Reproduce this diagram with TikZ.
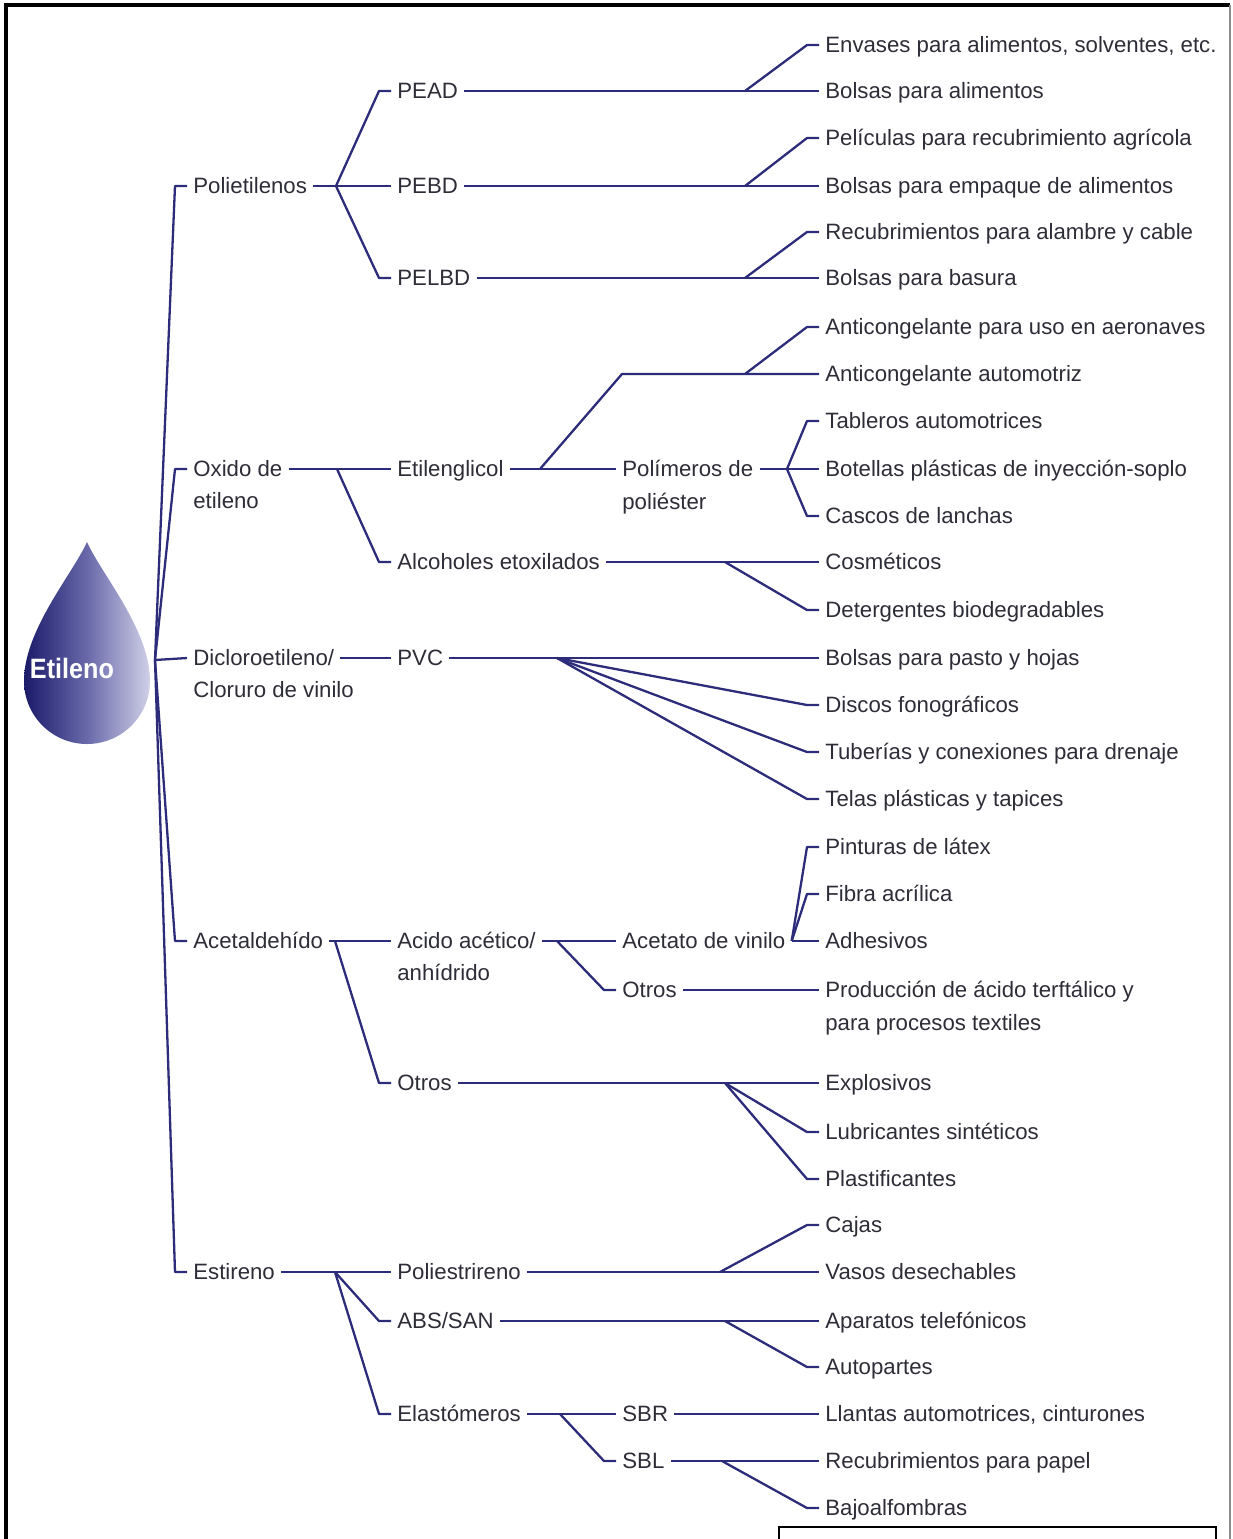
\documentclass[tikz,border=0pt]{standalone}
\usepackage{fontspec}
\setmainfont{Liberation Sans}
\usetikzlibrary{calc}

\definecolor{linea}{RGB}{44,44,122}
\definecolor{texto}{RGB}{45,45,55}
\definecolor{gotaosc}{RGB}{26,26,106}
\definecolor{gotamed}{RGB}{105,105,170}
\definecolor{gotacla}{RGB}{208,208,232}

\tikzset{
  rama/.style={draw=linea, line width=1.15pt, line join=round},
  txt/.style={anchor=west, inner xsep=3pt, inner ysep=0pt, text height=8pt,
    text depth=0.3pt, text=texto, font=\fontsize{11.1}{14}\selectfont},
}

\begin{document}
\begin{tikzpicture}[x=0.5pt, y=-0.5pt]
    \useasboundingbox (0,0) rectangle (1233,1539);

    % Marco
    \draw[line width=1.6pt] (6,1539) -- (6,5) -- (1230,5);
    \draw[black!45, line width=0.8pt] (1230,5) -- (1230,1539);
    \draw[line width=1.2pt] (779,1539) -- (779,1527) -- (1216,1527) -- (1216,1539);

    % Gota
    \shade[left color=gotaosc, right color=gotacla, middle color=gotamed]
        (87,542) .. controls (72,575) and (24,630) .. (24,681)
        arc[start angle=180, end angle=0, radius=63]
        .. controls (150,630) and (102,575) .. (87,542) -- cycle;
    \node[text=white, font={\fontsize{14}{14}\selectfont\bfseries}] (etileno) at (72,668)
        {\scalebox{0.9}[1]{Etileno}};
    \coordinate (raiz) at (155,660);

    % Primer nivel
    \node[txt] (poli) at (187,186) {Polietilenos};
    \node[txt] (oxi) at (187,469) {Oxido de};
    \node[txt] (oxib) at (187,501) {etileno};
    \node[txt] (dic) at (187,658) {Dicloroetileno/};
    \node[txt] (dicb) at (187,690) {Cloruro de vinilo};
    \node[txt] (ace) at (187,941) {Acetaldehído};
    \node[txt] (est) at (187,1272) {Estireno};

    % Segundo nivel
    \node[txt] (pead) at (391,91) {PEAD};
    \node[txt] (pebd) at (391,186) {PEBD};
    \node[txt] (pelbd) at (391,278) {PELBD};
    \node[txt] (etg) at (391,469) {Etilenglicol};
    \node[txt] (alc) at (391,562) {Alcoholes etoxilados};
    \node[txt] (pvc) at (391,658) {PVC};
    \node[txt] (aca) at (391,941) {Acido acético/};
    \node[txt] (acab) at (391,973) {anhídrido};
    \node[txt] (otra) at (391,1083) {Otros};
    \node[txt] (pest) at (391,1272) {Poliestrireno};
    \node[txt] (abs) at (391,1321) {ABS/SAN};
    \node[txt] (ela) at (391,1414) {Elastómeros};

    % Tercer nivel
    \node[txt] (polm) at (616,469) {Polímeros de};
    \node[txt] (polmb) at (616,502) {poliéster};
    \node[txt] (acv) at (616,941) {Acetato de vinilo};
    \node[txt] (otrb) at (616,990) {Otros};
    \node[txt] (sbr) at (616,1414) {SBR};
    \node[txt] (sbl) at (616,1461) {SBL};

    % Productos
    \node[txt] (env) at (819,45) {Envases para alimentos, solventes, etc.};
    \node[txt] (bal) at (819,91) {Bolsas para alimentos};
    \node[txt] (pel) at (819,138) {Películas para recubrimiento agrícola};
    \node[txt] (bea) at (819,186) {Bolsas para empaque de alimentos};
    \node[txt] (reca) at (819,232) {Recubrimientos para alambre y cable};
    \node[txt] (bba) at (819,278) {Bolsas para basura};
    \node[txt] (anta) at (819,327) {Anticongelante para uso en aeronaves};
    \node[txt] (antm) at (819,374) {Anticongelante automotriz};
    \node[txt] (tab) at (819,421) {Tableros automotrices};
    \node[txt] (bot) at (819,469) {Botellas plásticas de inyección-soplo};
    \node[txt] (cas) at (819,516) {Cascos de lanchas};
    \node[txt] (cos) at (819,562) {Cosméticos};
    \node[txt] (det) at (819,610) {Detergentes biodegradables};
    \node[txt] (bph) at (819,658) {Bolsas para pasto y hojas};
    \node[txt] (dis) at (819,705) {Discos fonográficos};
    \node[txt] (tub) at (819,752) {Tuberías y conexiones para drenaje};
    \node[txt] (tel) at (819,799) {Telas plásticas y tapices};
    \node[txt] (pin) at (819,847) {Pinturas de látex};
    \node[txt] (fib) at (819,894) {Fibra acrílica};
    \node[txt] (adh) at (819,941) {Adhesivos};
    \node[txt] (pro) at (819,990) {Producción de ácido terftálico y};
    \node[txt] (prob) at (819,1023) {para procesos textiles};
    \node[txt] (exp) at (819,1083) {Explosivos};
    \node[txt] (lub) at (819,1132) {Lubricantes sintéticos};
    \node[txt] (pla) at (819,1179) {Plastificantes};
    \node[txt] (caj) at (819,1225) {Cajas};
    \node[txt] (vas) at (819,1272) {Vasos desechables};
    \node[txt] (apa) at (819,1321) {Aparatos telefónicos};
    \node[txt] (aut) at (819,1367) {Autopartes};
    \node[txt] (lla) at (819,1414) {Llantas automotrices, cinturones};
    \node[txt] (recp) at (819,1461) {Recubrimientos para papel};
    \node[txt] (baj) at (819,1508) {Bajoalfombras};

    % Tronco
    \draw[rama] (raiz) -- ($(poli.west)+(-12,0)$) -- (poli.west);
    \draw[rama] (raiz) -- ($(oxi.west)+(-12,0)$) -- (oxi.west);
    \draw[rama] (raiz) -- (dic.west);
    \draw[rama] (raiz) -- ($(ace.west)+(-12,0)$) -- (ace.west);
    \draw[rama] (raiz) -- ($(est.west)+(-12,0)$) -- (est.west);

    % Polietilenos
    \coordinate (hpe) at (336,186);
    \draw[rama] (poli.east) -- (pebd.west);
    \draw[rama] (hpe) -- ($(pead.west)+(-12,0)$) -- (pead.west);
    \draw[rama] (hpe) -- ($(pelbd.west)+(-12,0)$) -- (pelbd.west);
    \coordinate (hpead) at (745,91);
    \coordinate (hpebd) at (745,186);
    \coordinate (hpelbd) at (745,278);
    \draw[rama] (pead.east) -- (bal.west);
    \draw[rama] (hpead) -- ($(env.west)+(-12,0)$) -- (env.west);
    \draw[rama] (pebd.east) -- (bea.west);
    \draw[rama] (hpebd) -- ($(pel.west)+(-12,0)$) -- (pel.west);
    \draw[rama] (pelbd.east) -- (bba.west);
    \draw[rama] (hpelbd) -- ($(reca.west)+(-12,0)$) -- (reca.west);

    % Oxido de etileno
    \coordinate (hox) at (337,469);
    \draw[rama] (oxi.east) -- (etg.west);
    \draw[rama] (hox) -- ($(alc.west)+(-12,0)$) -- (alc.west);
    \coordinate (heg) at (540,469);
    \coordinate (codo) at (622,374);
    \coordinate (hant) at (745,374);
    \draw[rama] (etg.east) -- (polm.west);
    \draw[rama] (heg) -- (codo) -- (antm.west);
    \draw[rama] (hant) -- ($(anta.west)+(-12,0)$) -- (anta.west);
    \coordinate (hpol) at (787,469);
    \draw[rama] (polm.east) -- (bot.west);
    \draw[rama] (hpol) -- ($(tab.west)+(-12,0)$) -- (tab.west);
    \draw[rama] (hpol) -- ($(cas.west)+(-12,0)$) -- (cas.west);
    \coordinate (halc) at (725,562);
    \draw[rama] (alc.east) -- (cos.west);
    \draw[rama] (halc) -- ($(det.west)+(-12,0)$) -- (det.west);

    % Dicloroetileno
    \coordinate (hpvc) at (557,658);
    \draw[rama] (dic.east) -- (pvc.west);
    \draw[rama] (pvc.east) -- (bph.west);
    \draw[rama] (hpvc) -- ($(dis.west)+(-12,0)$) -- (dis.west);
    \draw[rama] (hpvc) -- ($(tub.west)+(-12,0)$) -- (tub.west);
    \draw[rama] (hpvc) -- ($(tel.west)+(-12,0)$) -- (tel.west);

    % Acetaldehido
    \coordinate (hace) at (335,941);
    \draw[rama] (ace.east) -- (aca.west);
    \draw[rama] (hace) -- ($(otra.west)+(-12,0)$) -- (otra.west);
    \coordinate (haca) at (557,941);
    \draw[rama] (aca.east) -- (acv.west);
    \draw[rama] (haca) -- ($(otrb.west)+(-12,0)$) -- (otrb.west);
    \draw[rama] (acv.east) -- (adh.west);
    \draw[rama] (acv.east) -- ($(pin.west)+(-12,0)$) -- (pin.west);
    \draw[rama] (acv.east) -- ($(fib.west)+(-12,0)$) -- (fib.west);
    \draw[rama] (otrb.east) -- (pro.west);
    \coordinate (hotr) at (725,1083);
    \draw[rama] (otra.east) -- (exp.west);
    \draw[rama] (hotr) -- ($(lub.west)+(-12,0)$) -- (lub.west);
    \draw[rama] (hotr) -- ($(pla.west)+(-12,0)$) -- (pla.west);

    % Estireno
    \coordinate (hest) at (335,1272);
    \draw[rama] (est.east) -- (pest.west);
    \draw[rama] (hest) -- ($(abs.west)+(-12,0)$) -- (abs.west);
    \draw[rama] (hest) -- ($(ela.west)+(-12,0)$) -- (ela.west);
    \coordinate (hpest) at (720,1272);
    \draw[rama] (pest.east) -- (vas.west);
    \draw[rama] (hpest) -- ($(caj.west)+(-12,0)$) -- (caj.west);
    \coordinate (habs) at (725,1321);
    \draw[rama] (abs.east) -- (apa.west);
    \draw[rama] (habs) -- ($(aut.west)+(-12,0)$) -- (aut.west);
    \coordinate (hela) at (560,1414);
    \draw[rama] (ela.east) -- (sbr.west);
    \draw[rama] (hela) -- ($(sbl.west)+(-12,0)$) -- (sbl.west);
    \draw[rama] (sbr.east) -- (lla.west);
    \coordinate (hsbl) at (722,1461);
    \draw[rama] (sbl.east) -- (recp.west);
    \draw[rama] (hsbl) -- ($(baj.west)+(-12,0)$) -- (baj.west);
\end{tikzpicture}
\end{document}
